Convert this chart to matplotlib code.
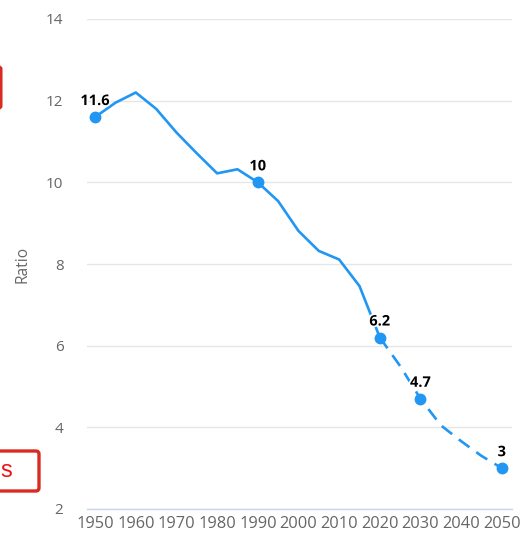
import matplotlib.pyplot as plt
import matplotlib.patheffects as pe
from matplotlib.patches import FancyBboxPatch

plt.rcParams['font.family'] = ['Open Sans', 'DejaVu Sans']

# ratio by year (solid = estimates, dashed = projections)
years = [1950, 1955, 1960, 1965, 1970, 1975, 1980, 1985, 1990, 1995,
         2000, 2005, 2010, 2015, 2020, 2025, 2030, 2035, 2040, 2045, 2050]
ratio = [11.6, 11.95, 12.2, 11.8, 11.22, 10.71, 10.22, 10.32, 10.0, 9.54,
         8.81, 8.32, 8.11, 7.46, 6.2, 5.5, 4.7, 4.05, 3.66, 3.3, 3.0]
split_year = 2020
label_years = [1950, 1990, 2020, 2030, 2050]
x_ticks = list(range(1950, 2051, 10))
y_ticks = [2, 4, 6, 8, 10, 12, 14]

blue = '#2196f3'
grey = '#666666'

fig = plt.figure(figsize=(5.24, 5.38), dpi=100)
ax = fig.add_axes([87 / 524, 1 - 509 / 538, (512 - 87) / 524, (509 - 19) / 538])

k = years.index(split_year)
ax.plot(years[:k + 1], ratio[:k + 1], color=blue, lw=1.9, solid_capstyle='round', zorder=3)
ax.plot(years[k:], ratio[k:], color=blue, lw=1.9, dashes=(5, 3.2), zorder=3)

lx = [y for y in label_years]
ly = [ratio[years.index(y)] for y in label_years]
ax.plot(lx, ly, 'o', color=blue, ms=7.5, zorder=4)
for x, y in zip(lx, ly):
    txt = ax.annotate(f'{y:g}', (x, y), xytext=(0, 11.5), textcoords='offset points',
                      ha='center', va='center', fontsize=10.5, fontweight='bold',
                      color='black', zorder=5)
    txt.set_path_effects([pe.withStroke(linewidth=2.5, foreground='white')])

ax.set_xlim(1948.0, 2052.5)
ax.set_ylim(2, 14)
ax.set_xticks(x_ticks)
ax.set_yticks(y_ticks)
ax.tick_params(axis='both', length=0, colors=grey)
ax.tick_params(axis='y', pad=17, labelsize=11)
ax.tick_params(axis='x', pad=5, labelsize=11.8)
for lab in ax.get_yticklabels():
    lab.set_horizontalalignment('right')
ax.grid(axis='y', color='#e6e6e6', lw=1)
ax.grid(axis='x', visible=False)
for s in ['top', 'right', 'left']:
    ax.spines[s].set_visible(False)
ax.spines['bottom'].set_color('#ccd6eb')
ax.spines['bottom'].set_linewidth(1)
ax.set_ylabel('Ratio', color=grey, fontsize=11.2)
ax.yaxis.set_label_coords(-(87 - 30) / 425, 0.5)

# red annotation boxes clipped at the left edge
W, H = 524, 538
red = '#d92b22'
b1 = FancyBboxPatch((-40 / W, 1 - 108 / H), 41 / W, 41 / H, transform=fig.transFigure,
                    boxstyle='round,pad=0,rounding_size=0.004', fc='none', ec=red, lw=2.2)
b2 = FancyBboxPatch((-40 / W, 1 - 491 / H), 79 / W, 40 / H, transform=fig.transFigure,
                    boxstyle='round,pad=0,rounding_size=0.006', fc='none', ec=red, lw=2.4)
fig.patches.extend([b1, b2])
fig.text(6 / W, 1 - 471 / H, 's', color='#ee1111', fontsize=17, ha='center', va='center',
         family=['Liberation Sans', 'DejaVu Sans'])

fig.savefig('out.png', dpi=100)
